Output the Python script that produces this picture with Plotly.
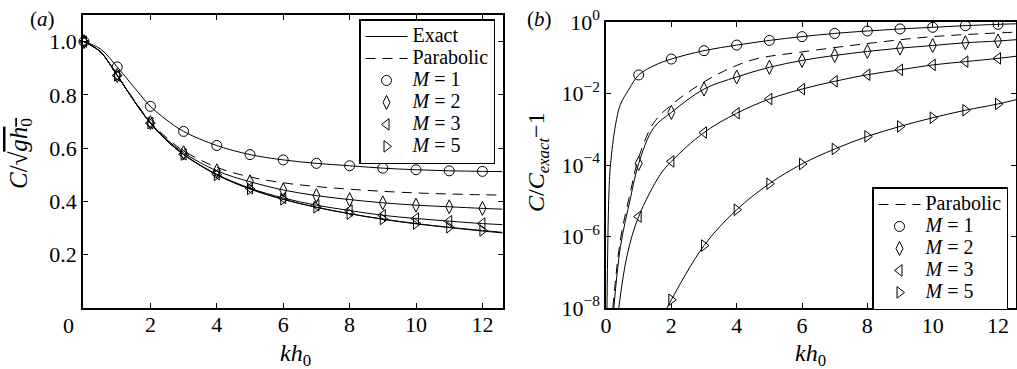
import plotly.graph_objects as go

W, H = 1017, 369


def px(x):
    return x / W


def py(y):
    return 1 - y / H


# ---------------- Panel (a): C / sqrt(g h0) ----------------
kh_line_a = [0, 0.5, 1, 1.5, 2, 2.5, 3, 4, 5, 6, 7, 8, 9, 10, 11, 12, 12.6]
exact_a = [1.0, 0.961, 0.873, 0.779, 0.694, 0.628, 0.576, 0.500, 0.447, 0.408,
           0.378, 0.354, 0.333, 0.316, 0.302, 0.289, 0.282]
parabolic_a = [1.0, 0.961, 0.874, 0.782, 0.698, 0.638, 0.590, 0.528, 0.492, 0.470,
               0.456, 0.446, 0.438, 0.432, 0.428, 0.425, 0.424]
m1_a = [1.0, 0.972, 0.905, 0.830, 0.757, 0.705, 0.663, 0.610, 0.576, 0.556,
        0.543, 0.534, 0.525, 0.519, 0.515, 0.513, 0.512]
m2_a = [1.0, 0.961, 0.873, 0.780, 0.696, 0.632, 0.583, 0.515, 0.474, 0.443,
        0.422, 0.407, 0.395, 0.386, 0.380, 0.374, 0.371]
m3_a = [1.0, 0.961, 0.873, 0.779, 0.694, 0.629, 0.577, 0.502, 0.450, 0.413,
        0.386, 0.366, 0.348, 0.336, 0.326, 0.317, 0.313]
m5_a = [1.0, 0.961, 0.873, 0.779, 0.694, 0.628, 0.576, 0.500, 0.447, 0.408,
        0.378, 0.354, 0.334, 0.317, 0.303, 0.291, 0.284]

# ---------------- Panel (b): C / C_exact - 1 ----------------
kh_par_b = [0.21, 0.44, 0.75, 1, 1.46, 2.07, 3.29, 4.5, 6, 8.16, 10, 12.55]
par_b = [1e-8, 8e-7, 1.8e-5, 1.6e-4, 1.5e-3, 5.4e-3, 0.030, 0.088, 0.145, 0.26, 0.39, 0.52]

kh_m1_b = [0.03, 0.085, 0.137, 0.29, 0.44, 0.7, 1, 1.5, 2, 3, 4, 5, 6, 7, 8, 9, 10, 11, 12, 12.55]
m1_b = [1e-8, 1.2e-5, 1e-4, 1.3e-3, 4.9e-3, 0.013, 0.033, 0.062, 0.092, 0.158, 0.226,
        0.305, 0.39, 0.48, 0.56, 0.64, 0.71, 0.79, 0.86, 0.89]

kh_m2_b = [0.24, 0.44, 0.75, 1, 1.46, 2, 3, 4, 5, 6, 7, 8, 9, 10, 11, 12, 12.55]
m2_b = [1e-8, 5e-7, 1.2e-5, 1.1e-4, 1.1e-3, 2.95e-3, 0.0133, 0.029, 0.054, 0.084,
        0.116, 0.15, 0.186, 0.22, 0.263, 0.294, 0.32]

kh_m3_b = [0.39, 0.65, 1, 1.66, 2, 3, 4, 5, 6, 7, 8, 9, 10, 11, 12, 12.55]
m3_b = [1e-8, 3.1e-7, 3.6e-6, 5.4e-5, 1.26e-4, 8.1e-4, 2.8e-3, 7e-3, 0.0133, 0.0219,
        0.0335, 0.046, 0.063, 0.078, 0.096, 0.11]

kh_m5_b = [1.87, 2, 3, 4, 5, 6, 7, 8, 9, 10, 11, 12, 12.55]
m5_b = [1e-8, 1.7e-8, 5.6e-7, 5.6e-6, 3.0e-5, 1.07e-4, 2.8e-4, 6.3e-4, 1.2e-3,
        2.1e-3, 3.4e-3, 5.1e-3, 6.7e-3]

x_ticks_a = [2, 4, 6, 8, 10, 12]
y_ticks_a = [0.2, 0.4, 0.6, 0.8, 1.0]
y_ticktext_a = ["0.2", "0.4", "0.6", "0.8", "1.0"]
x_ticks_b = [0, 2, 4, 6, 8, 10, 12]
y_ticks_b = [1e-8, 1e-6, 1e-4, 1e-2, 1]
y_ticktext_b = ["10<sup>−8</sup>", "10<sup>−6</sup>", "10<sup>−4</sup>", "10<sup>−2</sup>", "10<sup>0</sup>"]

labels = ["<i>M</i> = 1", "<i>M</i> = 2", "<i>M</i> = 3", "<i>M</i> = 5"]
symbols = ["circle-open", "diamond-tall-open", "triangle-left-open", "triangle-right-open"]

FONT = "Liberation Serif, Times New Roman, serif"
BIG = 'style="font-size:20px"'


def lname(t):
    return f'<span {BIG}>{t}</span>'


def integer_points(xs, ys, lo=0):
    px_, py_ = [], []
    for x, y in zip(xs, ys):
        if float(x).is_integer() and lo <= x <= 12:
            px_.append(x)
            py_.append(y)
    return px_, py_


fig = go.Figure()
line_style = dict(color="black", width=1)
dash_style = dict(color="black", width=1, dash="10px,7px", shape="spline")

# ---- panel (a)
fig.add_trace(go.Scatter(x=kh_line_a, y=exact_a, mode="lines", line=dict(line_style, shape="spline"),
                         name=lname("Exact"), legend="legend", xaxis="x", yaxis="y"))
fig.add_trace(go.Scatter(x=kh_line_a, y=parabolic_a, mode="lines", line=dash_style,
                         name=lname("Parabolic"), legend="legend", xaxis="x", yaxis="y"))
for ys in [m1_a, m2_a, m3_a, m5_a]:
    fig.add_trace(go.Scatter(x=kh_line_a, y=ys, mode="lines", line=dict(line_style, shape="spline"),
                             showlegend=False, xaxis="x", yaxis="y", hoverinfo="skip"))
for ys, lab, sym in zip([m1_a, m2_a, m3_a, m5_a], labels, symbols):
    mx, my = integer_points(kh_line_a, ys)
    fig.add_trace(go.Scatter(x=mx, y=my, mode="markers", cliponaxis=False,
                             marker=dict(symbol=sym, size=10, color="black", line=dict(width=1, color="black")),
                             name=lname(lab), legend="legend", xaxis="x", yaxis="y"))

# ---- panel (b)
fig.add_trace(go.Scatter(x=kh_par_b, y=par_b, mode="lines", line=dash_style,
                         name=lname("Parabolic"), legend="legend2", xaxis="x2", yaxis="y2"))
series_b = [(kh_m1_b, m1_b), (kh_m2_b, m2_b), (kh_m3_b, m3_b), (kh_m5_b, m5_b)]
for xs, ys in series_b:
    fig.add_trace(go.Scatter(x=xs, y=ys, mode="lines", line=dict(line_style, shape="spline"),
                             showlegend=False, xaxis="x2", yaxis="y2", hoverinfo="skip"))
for (xs, ys), lab, sym in zip(series_b, labels, symbols):
    mx, my = integer_points(xs, ys, lo=1)
    fig.add_trace(go.Scatter(x=mx, y=my, mode="markers",
                             marker=dict(symbol=sym, size=10, color="black", line=dict(width=1, color="black")),
                             name=lname(lab), legend="legend2", xaxis="x2", yaxis="y2"))

axis_common = dict(showline=True, linecolor="black", linewidth=1.5, mirror="allticks",
                   ticks="inside", ticklen=5, tickwidth=1, tickcolor="black",
                   showgrid=False, zeroline=False, automargin=False,
                   tickfont=dict(family=FONT, size=22, color="black"))

legend_common = dict(xanchor="right", yanchor="top", bgcolor="white", bordercolor="black",
                     borderwidth=1.5, itemwidth=42, tracegroupgap=0,
                     font=dict(family=FONT, size=14.6, color="black"))

fig.update_layout(
    template="none",
    width=W, height=H,
    margin=dict(l=0, r=0, t=0, b=0, pad=0, autoexpand=False),
    paper_bgcolor="white", plot_bgcolor="white",
    font=dict(family=FONT, color="black"),
    xaxis=dict(axis_common, domain=[px(83), px(503)], range=[-0.03, 12.62],
               tickvals=x_ticks_a, anchor="y", ticklabelstandoff=-4),
    yaxis=dict(axis_common, domain=[py(308), py(15)], range=[0, 1.1],
               tickvals=y_ticks_a, ticktext=y_ticktext_a, anchor="x"),
    xaxis2=dict(axis_common, domain=[px(606), px(1016)], range=[0, 12.55],
                tickvals=x_ticks_b, anchor="y2", ticklabelstandoff=-3),
    yaxis2=dict(axis_common, domain=[py(308), py(22)], type="log", range=[-8, 0],
                tickvals=y_ticks_b, ticktext=y_ticktext_b, anchor="x2"),
    legend=dict(legend_common, x=px(495), y=py(19)),
    legend2=dict(legend_common, x=px(1008), y=py(187)),
    showlegend=True,
)

ann_common = dict(xref="paper", yref="paper", showarrow=False, xanchor="center", yanchor="middle")
annotations = [
    dict(ann_common, text="(<i>a</i>)", x=px(42), y=py(19), font=dict(family=FONT, size=21, color="black")),
    dict(ann_common, text="(<i>b</i>)", x=px(539), y=py(19), font=dict(family=FONT, size=21, color="black")),
    dict(ann_common, text="0", x=px(68), y=py(325), font=dict(family=FONT, size=22, color="black")),
    dict(ann_common, text="<i>kh</i><sub>0</sub>", x=px(295), y=py(355),
         font=dict(family=FONT, size=24, color="black")),
    dict(ann_common, text="<i>kh</i><sub>0</sub>", x=px(810), y=py(355),
         font=dict(family=FONT, size=24, color="black")),
    dict(ann_common, text='<i>C</i>/√<span style="text-decoration:overline"><i>gh</i><sub>0</sub></span>',
         x=px(20), y=py(154), textangle=-90, font=dict(family=FONT, size=25, color="black")),
    dict(ann_common, text="<i>C</i>/<i>C</i><sub><i>exact</i></sub>−1",
         x=px(538), y=py(162), textangle=-90, font=dict(family=FONT, size=24, color="black")),
]
fig.update_layout(annotations=annotations)

fig.write_html("out.html")
